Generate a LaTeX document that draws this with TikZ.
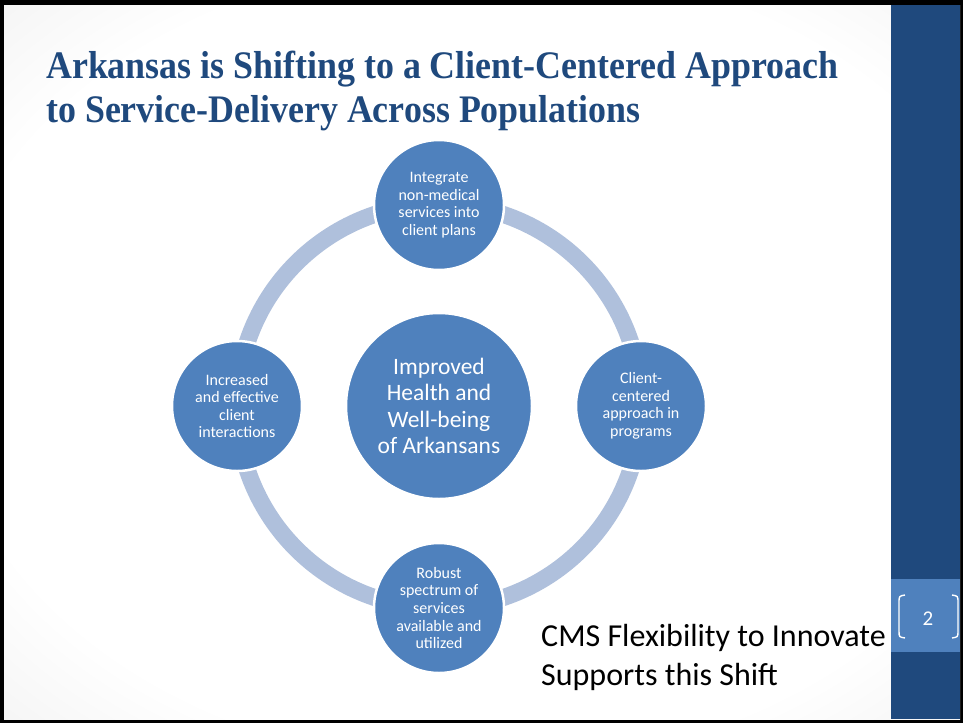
\documentclass[tikz,border=0pt]{standalone}
\usepackage{fontspec}
\setmainfont{Carlito}
\newfontfamily\titlefont{Liberation Serif}
\usepackage{graphicx}
\definecolor{slideblue}{RGB}{31,73,125}
\definecolor{accentblue}{RGB}{79,129,189}
\definecolor{ringblue}{RGB}{175,192,220}
\pgfdeclareradialshading{slidefade}{\pgfpoint{0bp}{0bp}}{color(0bp)=(white); color(28bp)=(white); color(50bp)=(black!11); color(72bp)=(black!18)}
\tikzset{
  bubble/.style={circle, fill=accentblue, draw=white, line width=2.5pt, text=white,
    align=center, inner sep=0pt, minimum size=130pt, font=\fontsize{16}{17.6}\selectfont},
  hubbubble/.style={bubble, minimum size=186pt, font=\fontsize{23.5}{26.6}\selectfont},
  titleline/.style={anchor=base west, inner sep=0pt, text=slideblue,
    font=\titlefont\bfseries\fontsize{39}{44}\selectfont},
  noteline/.style={anchor=base west, inner sep=0pt, font=\fontsize{32}{39}\selectfont}
}

\begin{document}
\begin{tikzpicture}[x=1pt,y=-1pt]
\useasboundingbox (0,0) rectangle (963,723);
\fill[black] (0,0) rectangle (963,723);
\shade[shading=slidefade] (4,5) rectangle (960,719);
\fill[slideblue] (891,5) rectangle (960,719);
\fill[accentblue] (891,579) rectangle (960,652);

\node[titleline] (title1) at (46,78) {\scalebox{0.92}[1]{Arkansas is Shifting to a Client-Centered Approach}};
\node[titleline] (title2) at (46,122) {\scalebox{0.92}[1]{to Service-Delivery Across Populations}};

\coordinate (mid) at (439,406);
\draw[ringblue, line width=17pt] (mid) circle (202pt);

\node[hubbubble] (hub) at (mid) {Improved\\Health and\\Well-being\\of Arkansans};
\node[bubble] (top) at (439,205) {Integrate\\non-medical\\services into\\client plans};
\node[bubble] (right) at (641,406) {Client-\\centered\\approach in\\programs};
\node[bubble] (bottom) at (439,608) {Robust\\spectrum of\\services\\available and\\utilized};
\node[bubble] (left) at (237,406) {Increased\\and effective\\client\\interactions};

\node[noteline] (note1) at (541,646) {CMS Flexibility to Innovate};
\node[noteline] (note2) at (541,685) {Supports this Shift};

\node[text=white, font=\fontsize{21}{24}\selectfont] (pagenum) at (928,619) {2};
\draw[white, line width=1.4pt] (905,595) .. controls (899,596) .. (899,603) -- (899,631) .. controls (899,637) .. (905,638);
\draw[white, line width=1.4pt] (952,595) .. controls (958,596) .. (958,603) -- (958,631) .. controls (958,637) .. (952,638);
\end{tikzpicture}
\end{document}
